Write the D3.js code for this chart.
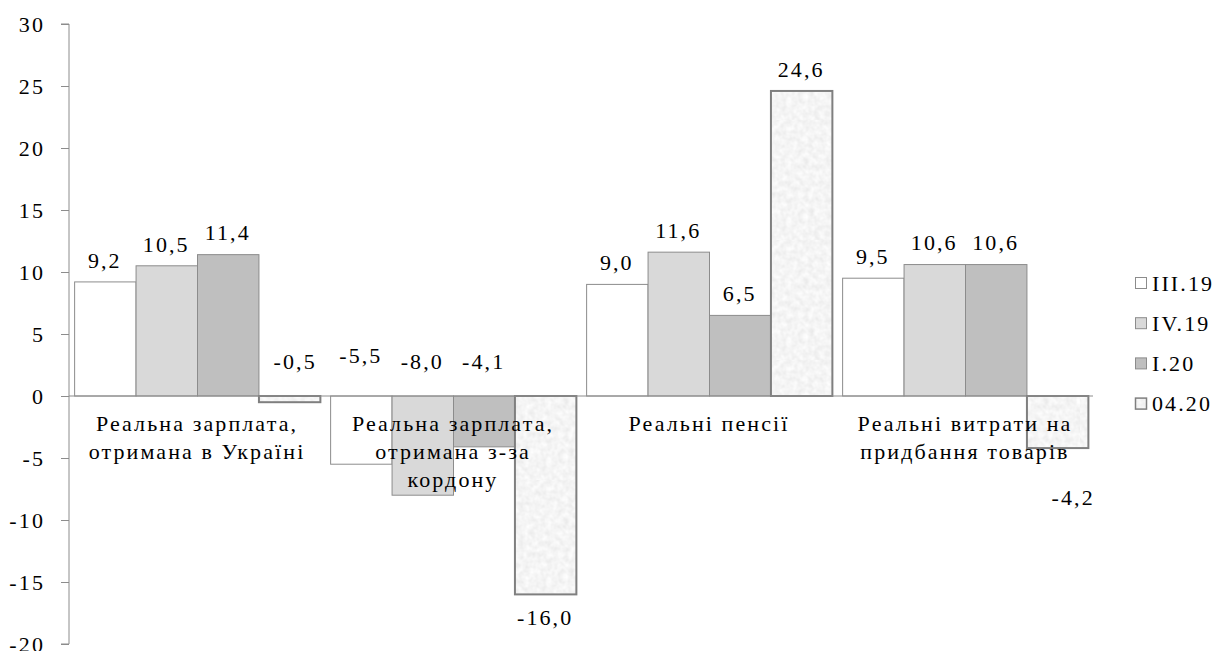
<!DOCTYPE html>
<html><head><meta charset="utf-8">
<script src="https://cdn.jsdelivr.net/npm/d3@7"></script>
<style>body{margin:0;background:#fff}svg{display:block}text{font-family:'Liberation Serif','Times New Roman',serif;font-size:22px;letter-spacing:2.1px;fill:#000}</style>
</head><body>
<svg id="c" width="1217" height="651"></svg>
<script>
const categories = [
  ["Реальна зарплата,", "отримана в Україні"],
  ["Реальна зарплата,", "отримана з-за", "кордону"],
  ["Реальні пенсії"],
  ["Реальні витрати на", "придбання товарів"]
];
const seriesNames = ["III.19", "IV.19", "I.20", "04.20"];
const valsIII19 = [9.2, -5.5, 9.0, 9.5];
const valsIV19 = [10.5, -8.0, 11.6, 10.6];
const valsI20 = [11.4, -4.1, 6.5, 10.6];
const vals0420 = [-0.5, -16.0, 24.6, -4.2];
const yTicks = [30, 25, 20, 15, 10, 5, 0, -5, -10, -15, -20];
const series = [valsIII19, valsIV19, valsI20, vals0420];

const svg = d3.select("#c");
const defs = svg.append("defs");
const f = defs.append("filter").attr("id","noise").attr("x",0).attr("y",0).attr("width","100%").attr("height","100%");
f.append("feTurbulence").attr("type","fractalNoise").attr("baseFrequency",0.18).attr("numOctaves",2).attr("seed",3);
f.append("feColorMatrix").attr("type","matrix").attr("values","0.22 0 0 0 0.8 0.22 0 0 0 0.8 0.22 0 0 0 0.8 0 0 0 0 1");
const pat = defs.append("pattern").attr("id","pat").attr("patternUnits","userSpaceOnUse").attr("width",120).attr("height",120);
pat.append("rect").attr("width",120).attr("height",120).attr("filter","url(#noise)");

const fills = ["#ffffff", "#d9d9d9", "#bfbfbf", "url(#pat)"];
const strokes = ["#8c8c8c", "#8c8c8c", "#8c8c8c", "#7f7f7f"];
const strokeW = [1, 1, 1, 2];

const x0 = 69, x1 = 1093;
const y = d3.scaleLinear().domain([-20, 30]).range([644, 24]);
const xg = d3.scaleBand().domain(d3.range(categories.length)).range([x0, x1]).paddingInner(0.04).paddingOuter(0.02);
const xs = d3.scaleBand().domain(d3.range(series.length)).range([0, xg.bandwidth()]);

// y axis
const yAxis = d3.axisLeft(y).tickValues(yTicks).tickSize(8).tickPadding(16).tickFormat(d => d);
const ga = svg.append("g").attr("transform", `translate(${x0},0)`).call(yAxis);
ga.attr("font-family", null).attr("font-size", null);
ga.select(".domain").attr("stroke", "#8c8c8c").attr("d", `M-8,${y(30)}H0V${y(-20)}H-8`);
ga.selectAll(".tick line").attr("stroke", "#8c8c8c");
ga.selectAll(".tick text").attr("fill", "#000");

// bars
series.forEach((vals, si) => {
  svg.append("g").selectAll("rect").data(vals).join("rect")
    .attr("x", (d, i) => xg(i) + xs(si) + 0.5)
    .attr("width", xs.bandwidth())
    .attr("y", d => y(Math.max(0, d)))
    .attr("height", d => Math.abs(y(d) - y(0)))
    .attr("fill", fills[si]).attr("stroke", strokes[si]).attr("stroke-width", strokeW[si]);
});

// zero line
svg.append("line").attr("x1", x0).attr("x2", x1).attr("y1", y(0)).attr("y2", y(0)).attr("stroke", "#8c8c8c");

// category labels (drawn over bars)
const cg = svg.append("g").attr("text-anchor", "middle");
categories.forEach((lines, i) => {
  const cx = xg(i) + xg.bandwidth() / 2;
  const t = cg.append("text").attr("x", cx).attr("y", y(0) + 35);
  lines.forEach((l, k) => t.append("tspan").attr("x", cx).attr("dy", k === 0 ? 0 : 28).text(l));
});

// value labels
const fmt = d => d.toFixed(1).replace(".", ",");
const nudge = { "3-0": [6, 361], "0-1": [0, 355], "1-1": [0, 361], "2-1": [0, 361], "3-1": [0, 617], "3-3": [16, 497] };
const lg = svg.append("g").attr("text-anchor", "middle");
series.forEach((vals, si) => {
  vals.forEach((d, i) => {
    let cx = xg(i) + xs(si) + xs.bandwidth() / 2, cy = y(d) - 22;
    const n = nudge[si + "-" + i];
    if (n) { cx += n[0]; cy = n[1]; }
    lg.append("text").attr("x", cx).attr("y", cy).attr("dy", "0.35em").text(fmt(d));
  });
});

// legend
const leg = svg.append("g");
seriesNames.forEach((s, si) => {
  const cy = 283 + si * 40.2;
  leg.append("rect").attr("x", 1135.5).attr("y", cy - 5.5).attr("width", 11).attr("height", 11)
    .attr("fill", fills[si]).attr("stroke", strokes[si]).attr("stroke-width", si === 3 ? 1.5 : 1);
  leg.append("text").attr("x", 1152).attr("y", cy).attr("dy", "0.35em").text(s);
});
</script>
</body></html>
